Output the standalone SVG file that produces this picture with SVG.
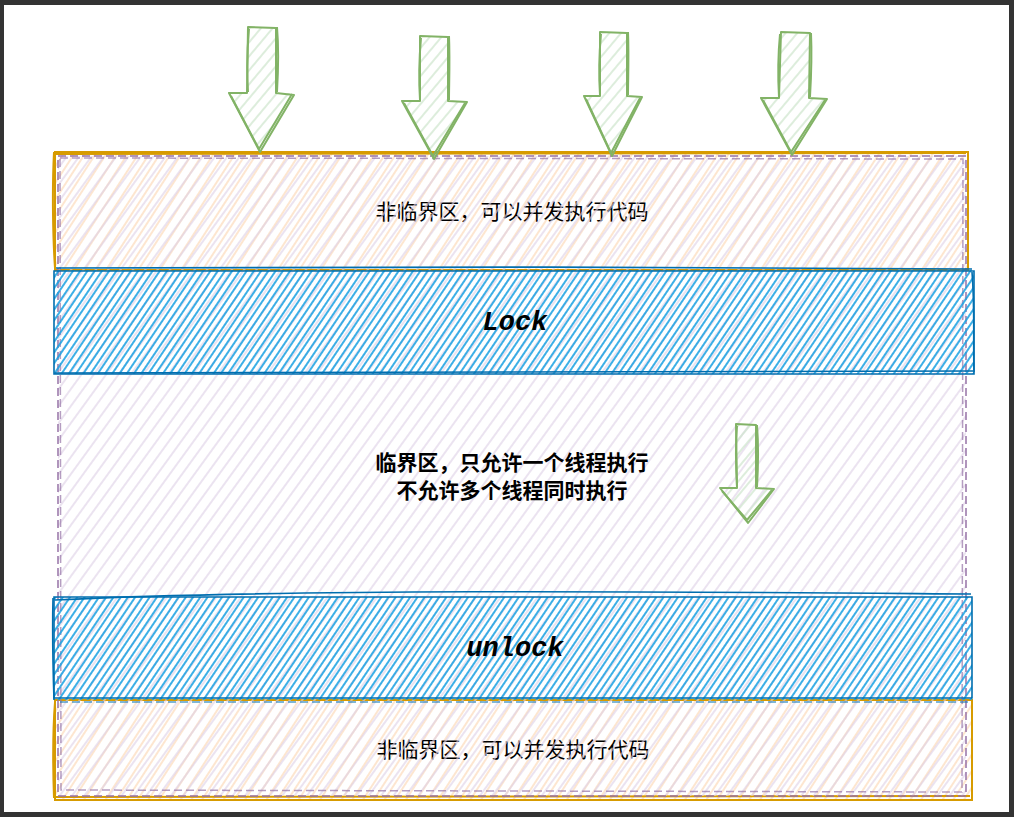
<svg xmlns="http://www.w3.org/2000/svg" width="1014" height="817" viewBox="0 0 1014 817">
<defs>
<pattern id="hOrange" width="9" height="9" patternUnits="userSpaceOnUse" patternTransform="rotate(33)">
<line x1="2" y1="0" x2="2" y2="9" stroke="#fcdcbc" stroke-width="1.4"/>
</pattern>
<pattern id="hPurple" width="10" height="10" patternUnits="userSpaceOnUse" patternTransform="rotate(36)">
<line x1="6" y1="0" x2="6" y2="10" stroke="#ddd0e6" stroke-width="1.2"/>
</pattern>
<pattern id="hBlue" width="6" height="6" patternUnits="userSpaceOnUse" patternTransform="rotate(34)">
<line x1="2" y1="0" x2="2" y2="6" stroke="#1ba1e2" stroke-width="1.7"/>
</pattern>
<pattern id="hGreen" width="9" height="9" patternUnits="userSpaceOnUse" patternTransform="rotate(40)">
<line x1="2" y1="0" x2="2" y2="9" stroke="#cfe6cd" stroke-width="1.4"/>
</pattern>
<style>
.cjk{font-family:"Noto Sans CJK SC","Noto Sans",sans-serif;font-size:21px;fill:#000;text-anchor:middle;dominant-baseline:central}
.bold{font-weight:bold}
.mono{font-family:"Liberation Mono","Courier New",monospace;font-size:27px;font-weight:bold;font-style:italic;fill:#000;text-anchor:middle;dominant-baseline:central}
.orange{stroke:#d79b00;stroke-width:2;fill:none}
.purple{stroke:#9673a6;stroke-width:1.5;fill:none;stroke-dasharray:8 4}
.blue{stroke:#006eaf;stroke-width:1.6;fill:none}
.green{stroke:#82b366;stroke-width:2;fill:none;stroke-linejoin:round}
</style>
</defs>
<rect x="0" y="0" width="1014" height="817" fill="#333333"/>
<rect x="4" y="5" width="1005" height="807" fill="#ffffff"/>

<g id="top-region">
<rect x="55" y="152" width="913" height="118" fill="url(#hOrange)"/>
<path class="orange" d="M55 152 L968 152 L968 270 L55 270 Z"/>
<path class="orange" d="M53 154 L966 153 M54 152 C52 190 53 240 55 268"/>
<text class="cjk" x="512" y="210">非临界区，可以并发执行代码</text>
</g>

<g id="bottom-region">
<rect x="55" y="700" width="917" height="100" fill="url(#hOrange)"/>
<path class="orange" d="M55 700 L972 700 L972 800 L55 800 Z"/>
<path class="orange" d="M55 702 C52 740 53 770 54 798 M56 797 L970 796"/>
<text class="cjk" x="513" y="748">非临界区，可以并发执行代码</text>
</g>

<g id="critical-region">
<rect x="58" y="156" width="908" height="640" fill="url(#hPurple)"/>
<path class="purple" d="M58 156 L966 156 L966 796 L58 796 Z"/>
<path class="purple" d="M60 158 L963 159 L962 792 L61 790 Z" stroke-dasharray="none" stroke-width="1" opacity="0.7"/>
<text class="cjk bold" x="512" y="461">临界区，只允许一个线程执行</text>
<text class="cjk bold" x="512" y="489">不允许多个线程同时执行</text>
</g>

<g id="lock">
<rect x="54" y="270" width="920" height="104" fill="url(#hBlue)"/>
<path class="blue" d="M54 271 L974 271 L974 374 L54 374 Z"/>
<path class="blue" d="M56 268 C300 266 700 267 972 269 M972 272 C975 310 973 340 974 372 M55 373 L973 371"/>
<text class="mono" x="515" y="323">Lock</text>
</g>

<g id="unlock">
<rect x="54" y="597" width="918" height="103" fill="url(#hBlue)"/>
<path class="blue" d="M54 597 L972 597 L972 698 L54 698 Z"/>
<path class="blue" d="M55 600 C300 588 700 592 971 594 M53 598 C52 640 53 670 54 700"/>
<path d="M60 702 L968 702" stroke="#006eaf" stroke-width="1.2" stroke-dasharray="8 4" fill="none"/>
<text class="mono" x="515" y="649">unlock</text>
</g>

<g id="arrow-1">
<path d="M248 27 L276 27 L276 93 L294 93 L260 152 L229 93 L248 93 Z" fill="url(#hGreen)"/>
<path class="green" d="M248 27 L276 28 L276 93 L294 95 L260 152 L229 93 L247 93 Z"/>
<path class="green" d="M249 29 C247 50 247 75 248 92 M277 27 C279 50 278 75 277 92 M231 96 L259 149 L292 94" stroke-width="1.3"/>
</g>
<g id="arrow-2">
<path d="M420 36 L448 36 L448 101 L467 101 L434 159 L402 101 L420 101 Z" fill="url(#hGreen)"/>
<path class="green" d="M420 36 L448 37 L448 101 L467 102 L434 159 L402 101 L420 101 Z"/>
<path class="green" d="M421 38 C419 60 419 85 420 100 M449 36 C450 60 449 85 449 100 M404 103 L433 156 L465 103" stroke-width="1.3"/>
</g>
<g id="arrow-3">
<path d="M600 32 L627 32 L627 96 L642 96 L612 156 L584 96 L600 96 Z" fill="url(#hGreen)"/>
<path class="green" d="M600 32 L627 33 L627 96 L642 97 L612 156 L584 96 L600 96 Z"/>
<path class="green" d="M601 34 C599 55 599 80 600 95 M628 32 C629 55 628 80 628 95 M586 99 L611 153 L640 98" stroke-width="1.3"/>
</g>
<g id="arrow-4">
<path d="M780 32 L810 32 L810 98 L827 98 L792 155 L761 98 L779 98 Z" fill="url(#hGreen)"/>
<path class="green" d="M781 32 L810 33 L809 98 L827 99 L792 155 L761 98 L779 98 Z"/>
<path class="green" d="M780 34 C778 55 778 80 779 97 M811 33 C812 55 811 80 810 97 M763 100 L791 152 L825 100" stroke-width="1.3"/>
</g>
<g id="arrow-5">
<path d="M736 424 L756 424 L756 488 L774 488 L748 523 L720 488 L737 488 Z" fill="url(#hGreen)"/>
<path class="green" d="M736 424 L756 425 L756 488 L774 489 L748 523 L720 488 L737 488 Z"/>
<path class="green" d="M737 426 C735 450 736 470 737 487 M757 425 C759 450 758 470 757 487 M722 491 L747 520 L772 490" stroke-width="1.3"/>
</g>
</svg>
